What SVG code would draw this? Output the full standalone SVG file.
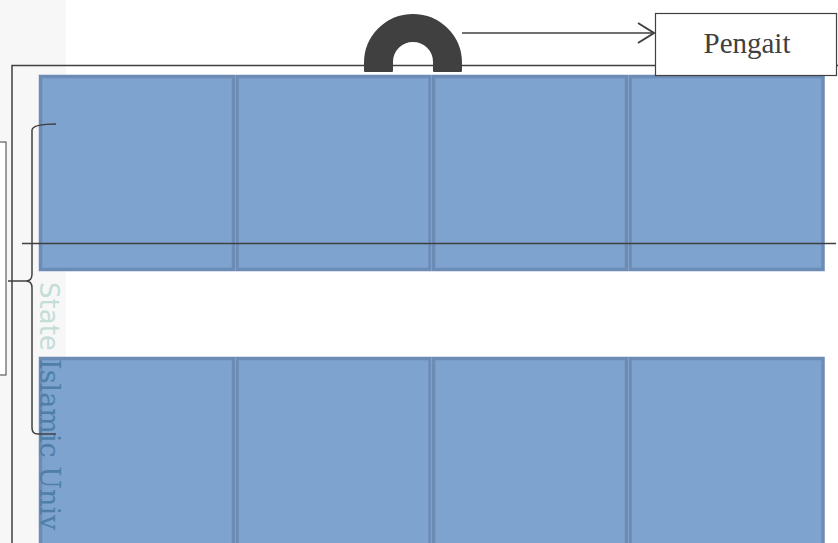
<svg xmlns="http://www.w3.org/2000/svg" width="838" height="543" viewBox="0 0 838 543">
<style>
.tile{fill:#7ea3cf;stroke:#6c8cb6;stroke-width:3.5}
.ln{stroke:#404040;stroke-width:1.5;fill:none}
.lbl{font-family:"Liberation Serif","Times New Roman",serif;font-size:29px;fill:#404040}
.wm{font-family:"DejaVu Serif",serif;font-size:27px}
</style>
<defs>
<marker id="open" viewBox="0 0 20 24" refX="18" refY="12" markerWidth="20" markerHeight="24" markerUnits="userSpaceOnUse" orient="auto">
<path d="M2 2 L18 12 L2 22" fill="none" stroke="#404040" stroke-width="2"/>
</marker>
</defs>
<rect width="838" height="543" fill="#ffffff"/>
<rect x="0" y="0" width="66" height="543" fill="#f4f4f4" opacity="0.7"/>
<g id="frame">
<path class="ln" d="M12 543 V65.5 H838" stroke-width="1.2"/>
</g>
<g id="tiles">
<rect class="tile" x="40.5" y="76.5" width="193" height="193"/>
<rect class="tile" x="237" y="76.5" width="193" height="193"/>
<rect class="tile" x="433.5" y="76.5" width="193" height="193"/>
<rect class="tile" x="630" y="76.5" width="193" height="193"/>
<rect class="tile" x="40.5" y="358.5" width="193" height="200"/>
<rect class="tile" x="237" y="358.5" width="193" height="200"/>
<rect class="tile" x="433.5" y="358.5" width="193" height="200"/>
<rect class="tile" x="630" y="358.5" width="193" height="200"/>
</g>
<g id="watermark">
<text class="wm" transform="translate(40,282) rotate(90)"><tspan fill="#c4ddd8" font-family="DejaVu Sans, sans-serif" font-size="26">State </tspan><tspan fill="#4f7fa6">Islamic Univ</tspan></text>
</g>
<g id="side-box">
<rect x="-2" y="142" width="8" height="233" fill="#ffffff" stroke="#404040" stroke-width="1"/>
</g>
<g id="hook">
<path d="M365 71 V63 A48 48 0 0 1 461 63 V71 H434 V62 A21 21 0 0 0 392 62 V71 Z" fill="#404040" stroke="#404040" stroke-width="2" stroke-linejoin="round"/>
</g>
<g id="pengait">
<rect x="655.5" y="13.5" width="181" height="62" fill="#ffffff" stroke="#404040" stroke-width="1.2"/>
<text class="lbl" x="747" y="53" text-anchor="middle">Pengait</text>
</g>
<g id="connectors">
<line class="ln" x1="462" y1="33" x2="654" y2="33" marker-end="url(#open)"/>
<line class="ln" x1="22" y1="243.5" x2="836" y2="243.5"/>
<path class="ln" d="M56 124 Q33 124 32 130 V274 Q32 281 26 281 H8 M26 281 Q32 281 32 288 V428 Q32 434 38 434 H56" stroke-width="2"/>
</g>
</svg>
